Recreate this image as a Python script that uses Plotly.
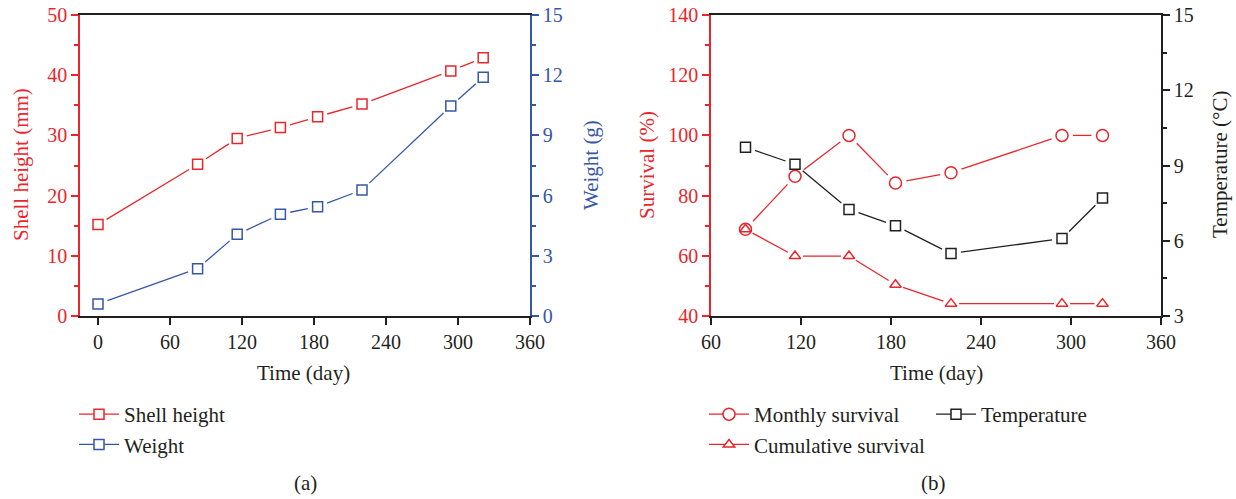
import plotly.graph_objects as go

# ---- data -------------------------------------------------------------
days = [0, 83, 116, 152, 183, 220, 294, 321]
shell_height = [15.2, 25.2, 29.5, 31.3, 33.1, 35.2, 40.7, 42.9]   # mm
weight = [0.6, 2.36, 4.07, 5.07, 5.45, 6.28, 10.46, 11.9]          # g

survival_days = [83, 116, 152, 183, 220, 294, 321]
monthly_survival = [68.8, 86.4, 100, 84.2, 87.6, 100, 100]         # %
cumulative_survival = [68.8, 59.9, 59.9, 50.4, 44.1, 44.1, 44.1]   # %
temperature = [9.73, 9.05, 7.25, 6.6, 5.49, 6.09, 7.7]             # deg C

x_ticks = [0, 60, 120, 180, 240, 300, 360]

# ---- style ------------------------------------------------------------
W, H = 1236, 499
RED = "#e8262c"
BLUE = "#3656a6"
BLACK = "#231f20"
FONT = "Liberation Serif"

# plot areas in pixels (left, right, top, bottom)
A_L, A_R = 80, 530
B_L, B_R = 711, 1161
P_T, P_B = 15, 316
PW, PH = A_R - A_L, P_B - P_T

XR_A = [-15, 360]
XR_B = [60, 360]
YR_SH, YR_W = [0, 50], [0, 15]
YR_S, YR_T = [40, 140], [3, 15]


def gapped(xs, ys, xr, yr, gap):
    """Line segments between consecutive points, trimmed by `gap` pixels
    at each end so the line stops short of the open markers."""
    ox, oy = [], []
    sx = PW / (xr[1] - xr[0])
    sy = PH / (yr[1] - yr[0])
    for i in range(len(xs) - 1):
        dx = (xs[i + 1] - xs[i]) * sx
        dy = (ys[i + 1] - ys[i]) * sy
        d = (dx * dx + dy * dy) ** 0.5
        if d <= 2 * gap:
            continue
        f = gap / d
        ox += [xs[i] + (xs[i + 1] - xs[i]) * f, xs[i + 1] - (xs[i + 1] - xs[i]) * f, None]
        oy += [ys[i] + (ys[i + 1] - ys[i]) * f, ys[i + 1] - (ys[i + 1] - ys[i]) * f, None]
    return ox, oy


def isolated(vals):
    out = []
    for v in vals:
        out += [v, None]
    return out


fig = go.Figure()


def add_series(name, xs, ys, xr, yr, color, symbol, size, gap, xaxis, yaxis, legend):
    lx, ly = gapped(xs, ys, xr, yr, gap)
    fig.add_trace(go.Scatter(
        x=lx, y=ly, mode="lines", line=dict(color=color, width=1.3),
        xaxis=xaxis, yaxis=yaxis, showlegend=False, hoverinfo="skip"))
    fig.add_trace(go.Scatter(
        x=isolated(xs), y=isolated(ys), mode="lines+markers", name=name,
        connectgaps=False, line=dict(color=color, width=1.3),
        marker=dict(symbol=symbol, size=size, color="white",
                    line=dict(color=color, width=1.5)),
        xaxis=xaxis, yaxis=yaxis, legend=legend))


# (a) growth
add_series("Shell height", days, shell_height, XR_A, YR_SH, RED, "square", 10, 10, "x", "y", "legend")
add_series("Weight", days, weight, XR_A, YR_W, BLUE, "square", 10, 10, "x", "y2", "legend")

# (b) survival and temperature
add_series("Monthly survival", survival_days, monthly_survival, XR_B, YR_S, RED, "circle", 12, 11, "x2", "y3", "legend2")
add_series("Cumulative survival", survival_days, cumulative_survival, XR_B, YR_S, RED, "triangle-up", 10, 8, "x2", "y3", "legend2")
add_series("Temperature", survival_days, temperature, XR_B, YR_T, BLACK, "square", 10, 10, "x2", "y4", "legend3")


def fx(px):
    return px / W


def fy(py):
    return 1 - py / H


ydom = [fy(P_B), fy(P_T)]
common = dict(showgrid=False, zeroline=False, showline=True, linewidth=1.5,
              ticks="outside", ticklen=7, tickwidth=1.5, automargin=False)


def yminor(dt, color):
    return dict(dtick=dt, ticks="outside", ticklen=4, tickwidth=1.5, tickcolor=color)


legend_style = dict(xanchor="left", yanchor="top", bgcolor="rgba(0,0,0,0)",
                    font=dict(size=21, color=BLACK), itemwidth=40)

fig.update_layout(
    width=W, height=H,
    margin=dict(l=0, r=0, t=0, b=0, autoexpand=False),
    paper_bgcolor="white", plot_bgcolor="white",
    font=dict(family=FONT, size=20, color=BLACK),
    xaxis=dict(**common, domain=[fx(A_L), fx(A_R)], range=XR_A, tickvals=x_ticks,
               anchor="y", linecolor=BLACK, tickcolor=BLACK, mirror=True),
    xaxis3=dict(domain=[fx(A_L), fx(A_R)], range=XR_A, tickvals=x_ticks, overlaying="x",
                side="top", anchor="y", ticks="inside", ticklen=5, tickwidth=1.2,
                tickcolor=BLACK, showticklabels=False, showline=False,
                showgrid=False, zeroline=False, automargin=False),
    yaxis=dict(**common, domain=ydom, range=YR_SH, dtick=10, anchor="x",
               linecolor=RED, tickcolor=RED, tickfont=dict(color=RED),
               minor=yminor(5, RED)),
    yaxis2=dict(**common, range=YR_W, dtick=3, anchor="x", overlaying="y", side="right",
                linecolor=BLUE, tickcolor=BLUE, tickfont=dict(color=BLUE),
                minor=yminor(1.5, BLUE)),
    xaxis2=dict(**common, domain=[fx(B_L), fx(B_R)], range=XR_B, tickvals=x_ticks[1:],
                anchor="y3", linecolor=BLACK, tickcolor=BLACK, mirror=True),
    yaxis3=dict(**common, domain=ydom, range=YR_S, dtick=20, anchor="x2",
                linecolor=RED, tickcolor=RED, tickfont=dict(color=RED),
                minor=yminor(10, RED)),
    yaxis4=dict(**common, range=YR_T, dtick=3, anchor="x2", overlaying="y3", side="right",
                linecolor=BLACK, tickcolor=BLACK, tickfont=dict(color=BLACK),
                minor=yminor(1.5, BLACK)),
    legend=dict(**legend_style, x=fx(74), y=fy(394)),
    legend2=dict(**legend_style, x=fx(704), y=fy(394)),
    legend3=dict(**legend_style, x=fx(931), y=fy(394)),
)

# axis titles and panel labels
labels = [
    ("Shell height (mm)", 21, 165, -90, RED),
    ("Weight (g)", 591, 165, -90, BLUE),
    ("Time (day)", (A_L + A_R) / 2 - 2, 373, 0, BLACK),
    ("(a)", (A_L + A_R) / 2, 483, 0, BLACK),
    ("Survival (%)", 647, 165, -90, RED),
    ("Temperature (°C)", 1220, 165, -90, BLACK),
    ("Time (day)", (B_L + B_R) / 2, 373, 0, BLACK),
    ("(b)", (B_L + B_R) / 2 - 3, 483, 0, BLACK),
]
for text, px, py, ang, col in labels:
    fig.add_annotation(text=text, xref="paper", yref="paper", x=fx(px), y=fy(py),
                       xanchor="center", yanchor="middle", textangle=ang,
                       showarrow=False, font=dict(size=21, color=col, family=FONT))

fig.write_html("out.html")
